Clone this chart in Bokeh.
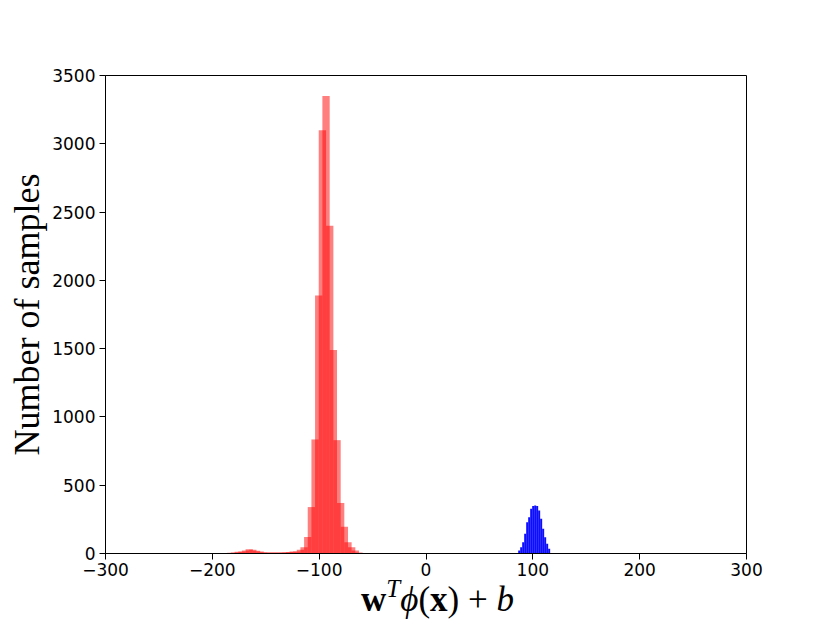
from bokeh.plotting import figure
from bokeh.models import Range1d, FixedTicker, Div
from bokeh.layouts import column
from bokeh.embed import file_html
from bokeh.resources import INLINE

# ---- data ----
red_a_edges = [-189.45, -182.6, -175.75, -168.9, -162.05, -155.2, -148.35, -141.5,
               -134.65, -127.8, -120.95, -114.1, -107.25, -100.4, -93.55, -86.7,
               -79.85, -73.0, -66.15, -59.3]
red_a_counts = [3, 8, 15, 32, 20, 10, 8, 8, 10, 14, 27, 120, 835, 3100, 2400, 830,
                195, 46, 8]

red_b_edges = [-192.9, -186.05, -179.2, -172.35, -165.5, -158.65, -151.8, -144.95,
               -138.1, -131.25, -124.4, -117.55, -110.7, -103.85, -97.0, -90.15,
               -83.3, -76.45, -69.6, -62.75, -55.9]
red_b_counts = [2, 6, 12, 22, 28, 14, 8, 8, 8, 11, 15, 46, 340, 1890, 3350, 1490,
                370, 83, 22, 3]

blue_edges = [86.3, 88.17, 90.04, 91.91, 93.78, 95.65, 97.52, 99.39, 101.26, 103.13,
              105.0, 106.87, 108.74, 110.61, 112.48, 114.35, 116.22]
blue_counts = [22, 46, 83, 144, 229, 266, 327, 348, 352, 347, 315, 254, 181, 119, 71, 34]

x_ticks = [-300, -200, -100, 0, 100, 200, 300]
y_ticks = [0, 500, 1000, 1500, 2000, 2500, 3000, 3500]

y_label = "Number of samples"
x_label_html = ('<b>w</b>'
                '<span style="font-size:25px;font-style:italic;vertical-align:14px;line-height:0">T</span>'
                '<i>\u03d5</i>(<b>x</b>)\u2005+\u2005<i>b</i>')

FRAME_L, FRAME_R, FRAME_T, FRAME_B = 105, 746, 75, 553
W, H = 830, 627
MAIN_H = 582

p = figure(width=W, height=MAIN_H, output_backend="svg", toolbar_location=None,
           x_range=Range1d(-300, 300), y_range=Range1d(0, 3500),
           min_border_left=FRAME_L, min_border_right=W - FRAME_R,
           min_border_top=FRAME_T, min_border_bottom=MAIN_H - FRAME_B)

def draw(edges, counts, color, alpha):
    p.quad(left=edges[:-1], right=edges[1:], top=counts, bottom=0,
           fill_color=color, fill_alpha=alpha, line_color=None)

draw(red_a_edges, red_a_counts, "red", 0.5)
draw(red_b_edges, red_b_counts, "red", 0.5)
draw(blue_edges, blue_counts, "blue", 0.95)

p.xgrid.visible = False
p.ygrid.visible = False
p.outline_line_color = "black"
p.outline_line_width = 1
p.outline_line_alpha = 1
p.background_fill_color = "white"
p.border_fill_color = "white"

p.xaxis.ticker = FixedTicker(ticks=x_ticks)
p.yaxis.ticker = FixedTicker(ticks=y_ticks)
p.xaxis.major_label_overrides = {t: (str(t).replace("-", "\u2212")) for t in x_ticks}

for ax in (p.xaxis, p.yaxis):
    ax.major_tick_out = 6
    ax.major_tick_in = 0
    ax.minor_tick_out = 0
    ax.minor_tick_in = 0
    ax.axis_line_color = "black"
    ax.major_tick_line_color = "black"
    ax.major_label_text_font = "DejaVu Sans"
    ax.major_label_text_font_size = "17px"
    ax.major_label_text_color = "black"
    ax.axis_label_text_font = "Liberation Serif"
    ax.axis_label_text_font_style = "normal"
    ax.axis_label_text_color = "black"
p.xaxis.major_label_standoff = 3
p.yaxis.major_label_standoff = 4

p.yaxis.axis_label = y_label
p.yaxis.axis_label_text_font_size = "36px"
p.yaxis.axis_label_standoff = 2

xlabel = Div(text=x_label_html, width=W, height=H - MAIN_H, margin=(0, 0, 0, 0),
             styles={"width": f"{W}px", "text-align": "center",
                     "padding-left": "45px", "box-sizing": "border-box",
                     "font-family": "'Liberation Serif', serif",
                     "font-size": "35px", "line-height": "35px", "color": "black",
                     "white-space": "nowrap"})

layout = column(p, xlabel, spacing=0)
open("out.html", "w").write(file_html(layout, INLINE))
